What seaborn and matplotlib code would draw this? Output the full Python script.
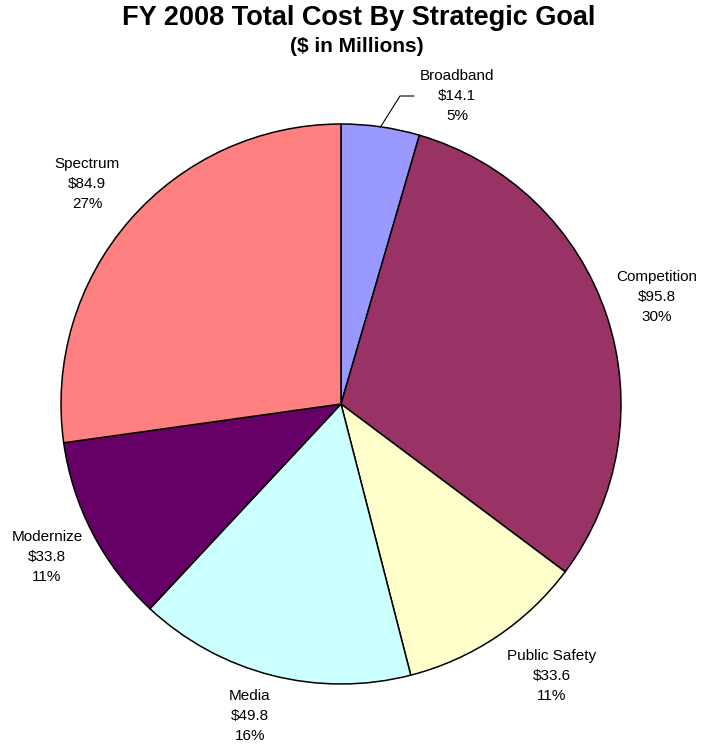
import numpy as np
import matplotlib
matplotlib.use("Agg")
import matplotlib.pyplot as plt
import seaborn as sns

# FY 2008 cost by strategic goal ($ millions), clockwise from 12 o'clock
goals = ["Broadband", "Competition", "Public Safety", "Media", "Modernize", "Spectrum"]
costs = [14.1, 95.8, 33.6, 49.8, 33.8, 84.9]
percent_labels = ["5%", "30%", "11%", "16%", "11%", "27%"]
colors = ["#9999FF", "#993366", "#FFFFCC", "#CCFFFF", "#660066", "#FF8080"]

# label anchor points (pixels from top-left of the figure)
label_xy = [(457, 96), (657, 297), (552, 676), (250, 716), (47, 557), (87, 184)]

sns.set_theme(style="white")
plt.rcParams["font.family"] = ["Liberation Sans", "DejaVu Sans"]

W, H = 703, 748
fig = plt.figure(figsize=(W / 100, H / 100), dpi=100)
ax = fig.add_axes([0, 0, 1, 1])

cx, cy, R = 341, H - 404, 280
wedges, _ = ax.pie(
    costs,
    colors=colors,
    startangle=90,
    counterclock=False,
    center=(cx, cy),
    radius=R,
    frame=True,
    wedgeprops=dict(edgecolor="black", linewidth=1.1),
)
ax.set_xlim(0, W)
ax.set_ylim(0, H)
ax.set_axis_off()
ax.set_aspect("equal")

label_kw = dict(ha="center", va="center", fontsize=11, linespacing=1.55, color="black")
for i, w in enumerate(wedges):
    text = f"{goals[i]}\n${costs[i]:.1f}\n{percent_labels[i]}"
    lx, ly = label_xy[i][0], H - label_xy[i][1]
    if goals[i] == "Broadband":
        # small slice: leader line from the rim to the label
        mid = np.deg2rad((w.theta1 + w.theta2) / 2)
        sx, sy = cx + R * np.cos(mid), cy + R * np.sin(mid)
        ex, ey = 400, H - 96
        ax.plot([sx, ex, 414], [sy, ey, ey], color="black", lw=0.8)
    ax.text(lx, ly, text, **label_kw)

fig.text(359 / W, 1 - 18 / H, "FY 2008 Total Cost By Strategic Goal",
         ha="center", va="center", fontsize=19.5, fontweight="bold", color="black")
fig.text(357 / W, 1 - 47 / H, "($ in Millions)",
         ha="center", va="center", fontsize=15, fontweight="bold", color="black")

fig.savefig("out.png", dpi=100, facecolor="white")
